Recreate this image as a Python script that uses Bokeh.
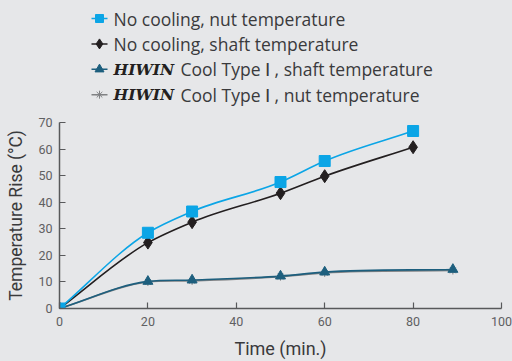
from bokeh.plotting import figure
from bokeh.layouts import column
from bokeh.models import Range1d, ColumnDataSource
from bokeh.core.properties import value
from bokeh.embed import file_html
from bokeh.resources import INLINE

# ---- data ----
time_nocool = [0, 20, 30, 50, 60, 80]
nut_nocool = [0, 28.5, 36.5, 47.6, 55.5, 66.8]
shaft_nocool = [0, 24.8, 32.5, 43.4, 49.8, 60.7]
time_cool = [0, 20, 30, 50, 60, 89]
shaft_cool = [0, 10.2, 10.7, 12.2, 13.7, 14.7]
nut_cool = [0, 10.0, 10.4, 12.0, 13.4, 14.3]
x_ticks = [0, 20, 40, 60, 80, 100]
y_ticks = [0, 10, 20, 30, 40, 50, 60, 70]
legend_brand = ["", "", "HIWIN", "HIWIN"]
legend_text = ["No cooling, nut temperature", "No cooling, shaft temperature",
               "Cool Type \u2160 , shaft temperature", "Cool Type \u2160 , nut temperature"]

BG = "#e6e7e9"
C_NUT = "#0ba5e6"
C_SHAFT = "#231f20"
C_CSHAFT = "#1d5f7e"
C_CNUT = "#808284"
FONT = "Roboto"
LFONT = "Open Sans"

def bezier_src(xs, ys):
    n = len(xs)
    h = [xs[i + 1] - xs[i] for i in range(n - 1)]
    s = [(ys[i + 1] - ys[i]) / h[i] for i in range(n - 1)]
    m = [s[0]] + [(h[i] * s[i - 1] + h[i - 1] * s[i]) / (h[i - 1] + h[i]) for i in range(1, n - 1)] + [s[-1]]
    d = dict(x0=[], y0=[], x1=[], y1=[], cx0=[], cy0=[], cx1=[], cy1=[])
    for i in range(n - 1):
        d["x0"].append(xs[i]); d["y0"].append(ys[i])
        d["x1"].append(xs[i + 1]); d["y1"].append(ys[i + 1])
        d["cx0"].append(xs[i] + h[i] / 3.0)
        d["cy0"].append(ys[i] + m[i] * h[i] / 3.0)
        d["cx1"].append(xs[i + 1] - h[i] / 3.0)
        d["cy1"].append(ys[i + 1] - m[i + 1] * h[i] / 3.0)
    return ColumnDataSource(d)

W = 512
LEG_H = 108
FRAME_L, FRAME_R = 59, 501
# ---- legend figure (its frame is aligned with the chart frame by the column layout) ----
leg = figure(width=W, height=LEG_H, x_range=Range1d(FRAME_L, FRAME_R), y_range=Range1d(LEG_H, 0),
             output_backend="svg", toolbar_location=None, min_border=0,
             x_axis_location=None, y_axis_location=None)
leg.grid.visible = False
leg.outline_line_color = None
leg.background_fill_color = BG
leg.border_fill_color = BG

rows = [18 + 25.4 * i for i in range(4)]
colors = [C_NUT, C_SHAFT, C_CSHAFT, C_CNUT]
markers = ["square", "diamond", "triangle", "asterisk"]
msizes = [8, 10, 9, 8]
for i in range(4):
    leg.segment(x0=[91], y0=[rows[i]], x1=[107], y1=[rows[i]], line_color=colors[i], line_width=1.5)
    leg.scatter(x=[99], y=[rows[i]], marker=markers[i], size=msizes[i],
                fill_color=colors[i], line_color=colors[i], line_width=1)
for i in range(4):
    if legend_brand[i]:
        leg.text(x=[113], y=[rows[i]], text=[legend_brand[i]], text_font=value("DejaVu Serif"),
                 text_font_style="bold italic", text_font_size="15.5px", text_color="#231f20",
                 text_baseline="middle")
        tx = 180
    else:
        tx = 113
    leg.text(x=[tx], y=[rows[i]], text=[legend_text[i]], text_font=value(LFONT),
             text_font_size="17.5px", text_color="#3a3a3c", text_baseline="middle")

# ---- chart ----
p = figure(width=W, height=361 - LEG_H, x_range=Range1d(0, 100), y_range=Range1d(0, 70),
           output_backend="svg", toolbar_location=None,
           min_border_left=FRAME_L, min_border_right=W - FRAME_R, min_border_top=14, min_border_bottom=53)
p.background_fill_color = BG
p.border_fill_color = BG
p.outline_line_color = None
p.grid.visible = False

for ax, ticks in ((p.xaxis[0], x_ticks), (p.yaxis[0], y_ticks)):
    ax.ticker = ticks
    ax.major_tick_in = 6
    ax.major_tick_out = 0
    ax.minor_tick_line_color = None
    ax.axis_line_color = "#58595b"
    ax.axis_line_width = 1.5
    ax.major_tick_line_color = "#58595b"
    ax.major_tick_line_width = 1.2
    ax.major_label_text_font = FONT
    ax.major_label_text_font_size = "12.5px"
    ax.major_label_text_color = "#5f6062"
    ax.axis_label_text_font = FONT
    ax.axis_label_text_font_style = "normal"
    ax.axis_label_text_color = "#3a3a3c"
p.xaxis.axis_label = "Time (min.)"
p.yaxis.axis_label = "Temperature Rise (\u00b0C)"
p.xaxis.axis_label_text_font_size = "18px"
p.yaxis.axis_label_text_font_size = "17.5px"
p.xaxis.major_label_standoff = 8
p.xaxis.axis_label_standoff = 9
p.yaxis.major_label_standoff = 7
p.yaxis.axis_label_standoff = 9

series = [
    (time_cool, nut_cool, C_CNUT, "asterisk", 8),
    (time_cool, shaft_cool, C_CSHAFT, "triangle", 10),
    (time_nocool, shaft_nocool, C_SHAFT, "diamond", 13),
    (time_nocool, nut_nocool, C_NUT, "square", 11),
]
for xs, ys, c, m, s in series:
    p.bezier(x0="x0", y0="y0", x1="x1", y1="y1", cx0="cx0", cy0="cy0", cx1="cx1", cy1="cy1",
             source=bezier_src(xs, ys), line_color=c, line_width=1.6)
for xs, ys, c, m, s in series:
    p.scatter(x=xs, y=ys, marker=m, size=s, fill_color=c, line_color=c, line_width=1)

layout = column(leg, p, spacing=0)
layout.styles = {"background-color": BG}
html = file_html(layout, INLINE)
html = html.replace("<head>", "<head><style>html,body{background:%s;}</style>" % BG, 1)
open("out.html", "w").write(html)
